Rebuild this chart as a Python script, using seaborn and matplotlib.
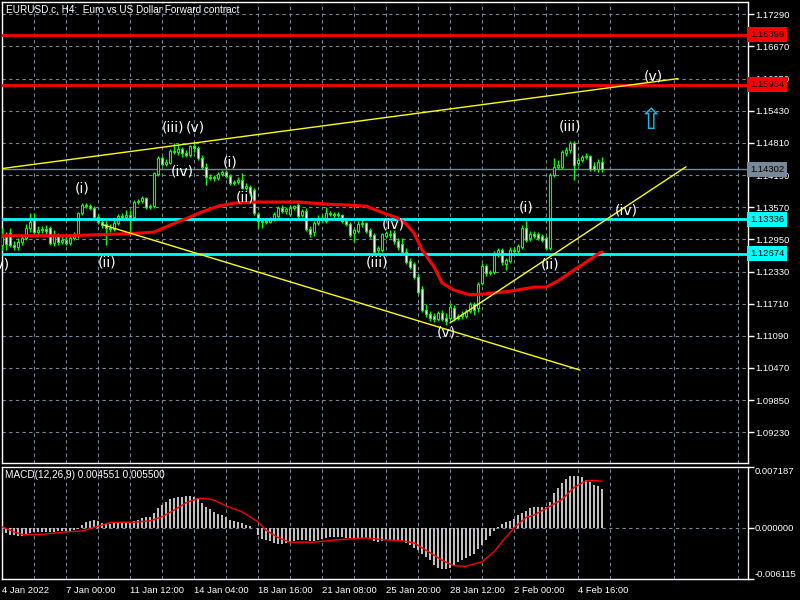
import matplotlib
matplotlib.use("Agg")
import matplotlib.pyplot as plt
import matplotlib.transforms as mtransforms
import numpy as np
import seaborn as sns

TITLE = "EURUSD.c, H4:  Euro vs US Dollar Forward contract"
MACD_TITLE = "MACD(12,26,9) 0.004551 0.005500"

# H4 candles (bar 0 = 4 Jan 2022)
opens = [
    1.1284, 1.1300, 1.1307, 1.1284, 1.1280, 1.1290, 1.1298, 1.1317, 1.1336, 1.1309,
    1.1313, 1.1315, 1.1317, 1.1288, 1.1302, 1.1290, 1.1294, 1.1288, 1.1298, 1.1303,
    1.1346, 1.1361, 1.1359, 1.1356, 1.1338, 1.1329, 1.1325, 1.1317, 1.1315, 1.1327,
    1.1340, 1.1338, 1.1342, 1.1338, 1.1367, 1.1369, 1.1375, 1.1357, 1.1359, 1.1421,
    1.1452, 1.1440, 1.1442, 1.1466, 1.1464, 1.1469, 1.1462, 1.1458, 1.1475, 1.1471,
    1.1452, 1.1435, 1.1415, 1.1415, 1.1413, 1.1421, 1.1425, 1.1417, 1.1404, 1.1406,
    1.1410, 1.1394, 1.1396, 1.1390, 1.1344, 1.1330, 1.1330, 1.1329, 1.1334, 1.1340,
    1.1356, 1.1350, 1.1344, 1.1356, 1.1361, 1.1342, 1.1350, 1.1315, 1.1309, 1.1327,
    1.1334, 1.1330, 1.1346, 1.1344, 1.1342, 1.1342, 1.1330, 1.1325, 1.1307, 1.1311,
    1.1325, 1.1327, 1.1313, 1.1303, 1.1275, 1.1275, 1.1302, 1.1305, 1.1307, 1.1292,
    1.1286, 1.1271, 1.1253, 1.1248, 1.1222, 1.1199, 1.1159, 1.1151, 1.1147, 1.1141,
    1.1153, 1.1143, 1.1143, 1.1162, 1.1143, 1.1147, 1.1147, 1.1157, 1.1170, 1.1162,
    1.1211, 1.1244, 1.1230, 1.1232, 1.1267, 1.1275, 1.1248, 1.1253, 1.1275, 1.1273,
    1.1280, 1.1317, 1.1298, 1.1305, 1.1305, 1.1302, 1.1298, 1.1278, 1.1419, 1.1435,
    1.1435, 1.1462, 1.1467, 1.1481, 1.1442, 1.1448, 1.1454, 1.1456, 1.1437, 1.1431,
    1.1444,
]
highs = [
    1.1317, 1.1309, 1.1317, 1.1292, 1.1298, 1.1303, 1.1325, 1.1346, 1.1346, 1.1321,
    1.1321, 1.1323, 1.1321, 1.1313, 1.1307, 1.1303, 1.1302, 1.1303, 1.1309, 1.1348,
    1.1365, 1.1365, 1.1363, 1.1359, 1.1344, 1.1336, 1.1330, 1.1325, 1.1332, 1.1344,
    1.1346, 1.1352, 1.1352, 1.1371, 1.1373, 1.1379, 1.1377, 1.1363, 1.1425, 1.1456,
    1.1456, 1.1450, 1.1469, 1.1481, 1.1479, 1.1473, 1.1467, 1.1477, 1.1483, 1.1475,
    1.1458, 1.1442, 1.1421, 1.1419, 1.1425, 1.1429, 1.1429, 1.1421, 1.1410, 1.1415,
    1.1423, 1.1404, 1.1400, 1.1394, 1.1348, 1.1336, 1.1334, 1.1338, 1.1348, 1.1359,
    1.1361, 1.1357, 1.1361, 1.1361, 1.1367, 1.1354, 1.1356, 1.1321, 1.1330, 1.1342,
    1.1344, 1.1357, 1.1350, 1.1348, 1.1348, 1.1344, 1.1336, 1.1329, 1.1317, 1.1330,
    1.1332, 1.1329, 1.1317, 1.1307, 1.1282, 1.1307, 1.1311, 1.1313, 1.1313, 1.1298,
    1.1298, 1.1278, 1.1259, 1.1251, 1.1228, 1.1205, 1.1170, 1.1157, 1.1153, 1.1157,
    1.1159, 1.1153, 1.1172, 1.1168, 1.1151, 1.1157, 1.1161, 1.1174, 1.1174, 1.1213,
    1.1249, 1.1248, 1.1236, 1.1273, 1.1278, 1.1278, 1.1259, 1.1280, 1.1280, 1.1286,
    1.1323, 1.1330, 1.1311, 1.1311, 1.1309, 1.1305, 1.1302, 1.1423, 1.1452, 1.1448,
    1.1467, 1.1473, 1.1485, 1.1485, 1.1454, 1.1458, 1.1462, 1.1458, 1.1444, 1.1450,
    1.1454,
]
lows = [
    1.1275, 1.1275, 1.1280, 1.1275, 1.1275, 1.1284, 1.1294, 1.1309, 1.1303, 1.1302,
    1.1307, 1.1305, 1.1284, 1.1282, 1.1284, 1.1286, 1.1284, 1.1284, 1.1294, 1.1298,
    1.1342, 1.1356, 1.1352, 1.1336, 1.1325, 1.1317, 1.1284, 1.1309, 1.1311, 1.1323,
    1.1332, 1.1334, 1.1307, 1.1332, 1.1363, 1.1365, 1.1354, 1.1354, 1.1356, 1.1417,
    1.1437, 1.1437, 1.1440, 1.1460, 1.1458, 1.1454, 1.1454, 1.1454, 1.1464, 1.1448,
    1.1431, 1.1400, 1.1410, 1.1408, 1.1410, 1.1417, 1.1413, 1.1400, 1.1400, 1.1402,
    1.1392, 1.1390, 1.1379, 1.1342, 1.1317, 1.1317, 1.1325, 1.1327, 1.1330, 1.1336,
    1.1346, 1.1344, 1.1340, 1.1352, 1.1336, 1.1338, 1.1311, 1.1300, 1.1302, 1.1323,
    1.1329, 1.1327, 1.1340, 1.1336, 1.1338, 1.1327, 1.1321, 1.1300, 1.1290, 1.1307,
    1.1319, 1.1307, 1.1298, 1.1269, 1.1269, 1.1271, 1.1298, 1.1298, 1.1286, 1.1275,
    1.1267, 1.1248, 1.1238, 1.1219, 1.1190, 1.1155, 1.1145, 1.1137, 1.1135, 1.1137,
    1.1137, 1.1130, 1.1139, 1.1137, 1.1139, 1.1141, 1.1143, 1.1153, 1.1149, 1.1155,
    1.1207, 1.1224, 1.1226, 1.1228, 1.1261, 1.1246, 1.1236, 1.1249, 1.1269, 1.1269,
    1.1276, 1.1290, 1.1292, 1.1298, 1.1294, 1.1290, 1.1275, 1.1275, 1.1415, 1.1431,
    1.1431, 1.1456, 1.1462, 1.1410, 1.1437, 1.1444, 1.1450, 1.1427, 1.1427, 1.1425,
    1.1425,
]
closes = [
    1.1300, 1.1286, 1.1284, 1.1280, 1.1290, 1.1298, 1.1317, 1.1329, 1.1309, 1.1313,
    1.1315, 1.1311, 1.1288, 1.1302, 1.1290, 1.1294, 1.1288, 1.1298, 1.1303, 1.1346,
    1.1361, 1.1359, 1.1356, 1.1338, 1.1329, 1.1323, 1.1317, 1.1315, 1.1327, 1.1340,
    1.1338, 1.1342, 1.1338, 1.1367, 1.1369, 1.1375, 1.1357, 1.1359, 1.1423, 1.1452,
    1.1440, 1.1444, 1.1466, 1.1464, 1.1469, 1.1462, 1.1458, 1.1475, 1.1471, 1.1452,
    1.1435, 1.1415, 1.1413, 1.1413, 1.1421, 1.1425, 1.1417, 1.1404, 1.1406, 1.1410,
    1.1394, 1.1398, 1.1384, 1.1346, 1.1330, 1.1329, 1.1329, 1.1334, 1.1344, 1.1356,
    1.1350, 1.1354, 1.1356, 1.1359, 1.1340, 1.1350, 1.1315, 1.1305, 1.1327, 1.1334,
    1.1336, 1.1346, 1.1344, 1.1342, 1.1344, 1.1330, 1.1325, 1.1303, 1.1313, 1.1325,
    1.1327, 1.1311, 1.1302, 1.1271, 1.1278, 1.1305, 1.1307, 1.1303, 1.1292, 1.1280,
    1.1271, 1.1251, 1.1242, 1.1222, 1.1193, 1.1159, 1.1151, 1.1143, 1.1141, 1.1153,
    1.1141, 1.1137, 1.1164, 1.1143, 1.1147, 1.1151, 1.1157, 1.1170, 1.1159, 1.1209,
    1.1244, 1.1230, 1.1232, 1.1267, 1.1275, 1.1251, 1.1255, 1.1275, 1.1273, 1.1282,
    1.1317, 1.1294, 1.1305, 1.1302, 1.1298, 1.1294, 1.1278, 1.1419, 1.1435, 1.1439,
    1.1464, 1.1467, 1.1481, 1.1439, 1.1448, 1.1454, 1.1456, 1.1431, 1.1431, 1.1444,
    1.14302,
]

# moving average (red line), sampled along the curve
ma_bar = [0, 8, 16, 20, 28, 34, 38, 41, 44, 47, 50, 54, 58, 64, 74, 81, 87, 91,
          94, 96, 99, 101, 103, 105, 108, 110, 113, 117, 121, 127, 133, 136,
          139, 143, 146, 149, 150]
ma_price = [1.1302, 1.1302, 1.1302, 1.1303, 1.1305, 1.1307, 1.1309, 1.1319,
            1.1329, 1.1338, 1.1348, 1.1359, 1.1365, 1.1367, 1.1367, 1.1363,
            1.1361, 1.1359, 1.1350, 1.1344, 1.1336, 1.1325, 1.1307, 1.1275,
            1.1242, 1.1211, 1.1197, 1.1188, 1.1190, 1.1195, 1.1203, 1.1203,
            1.1215, 1.1236, 1.1251, 1.1267, 1.1271]

# MACD histogram, one value per candle
macd_hist = [
    -0.00063, -0.00071, -0.00083, -0.00091, -0.00099, -0.00095, -0.00087, -0.00071, -0.00059, -0.00051,
    -0.00048, -0.00048, -0.00051, -0.00048, -0.00044, -0.00044, -0.00040, -0.00040, -0.00032, -0.00012,
    0.00028, 0.00067, 0.00083, 0.00087, 0.00075, 0.00055, 0.00040, 0.00036, 0.00048, 0.00055,
    0.00063, 0.00063, 0.00063, 0.00075, 0.00095, 0.00115, 0.00119, 0.00123, 0.00174, 0.00226,
    0.00273, 0.00305, 0.00333, 0.00356, 0.00364, 0.00368, 0.00372, 0.00376, 0.00364, 0.00333,
    0.00293, 0.00246, 0.00214, 0.00186, 0.00166, 0.00147, 0.00119, 0.00095, 0.00079, 0.00071,
    0.00048, 0.00028, 0.00016, -0.00008, -0.00091, -0.00131, -0.00150, -0.00166, -0.00182, -0.00194,
    -0.00198, -0.00186, -0.00174, -0.00162, -0.00150, -0.00150, -0.00154, -0.00162, -0.00158, -0.00143,
    -0.00131, -0.00119, -0.00111, -0.00107, -0.00107, -0.00115, -0.00119, -0.00127, -0.00135, -0.00127,
    -0.00119, -0.00123, -0.00135, -0.00158, -0.00174, -0.00162, -0.00150, -0.00150, -0.00150, -0.00158,
    -0.00162, -0.00182, -0.00210, -0.00238, -0.00269, -0.00309, -0.00348, -0.00388, -0.00447, -0.00475,
    -0.00487, -0.00495, -0.00475, -0.00440, -0.00408, -0.00388, -0.00368, -0.00341, -0.00317, -0.00261,
    -0.00210, -0.00150, -0.00103, -0.00040, 0.00004, 0.00040, 0.00067, 0.00079, 0.00107, 0.00147,
    0.00174, 0.00198, 0.00226, 0.00238, 0.00246, 0.00246, 0.00238, 0.00305, 0.00404, 0.00475,
    0.00531, 0.00582, 0.00610, 0.00610, 0.00610, 0.00594, 0.00562, 0.00535, 0.00503, 0.00491,
    0.004551,
]

# MACD signal line (red), sampled
signal_bar = [0, 3, 5, 10, 12, 16, 20, 22, 25, 27, 30, 33, 37, 40, 43, 46, 49,
              51, 53, 56, 60, 64, 66, 69, 72, 78, 83, 88, 91, 95, 100, 103, 106,
              110, 113, 116, 120, 123, 125, 128, 131, 133, 136, 140, 143, 146,
              148, 150]
signal_val = [0.00008, -0.00051, -0.00083, -0.00083, -0.00071, -0.00051,
              -0.00040, -0.00012, 0.00028, 0.00059, 0.00063, 0.00063, 0.00079,
              0.00127, 0.00206, 0.00293, 0.00345, 0.00345, 0.00325, 0.00257,
              0.00186, 0.00067, -0.00032, -0.00119, -0.00174, -0.00174,
              -0.00150, -0.00131, -0.00123, -0.00143, -0.00158, -0.00182,
              -0.00269, -0.00388, -0.00455, -0.00459, -0.00408, -0.00289,
              -0.00170, -0.00004, 0.00119, 0.00147, 0.00226, 0.00333, 0.00475,
              0.00554, 0.00560, 0.00550]

# horizontal levels
red_levels = [1.16899, 1.15934]
cyan_levels = [1.13336, 1.12674]
bid_price = 1.14302

# trend lines: (bar, price) start and end
trend_lines = [
    ((-0.5, 1.1431), (169.0, 1.1605)),
    ((25.25, 1.1323), (144.5, 1.1043)),
    ((112.0, 1.1134), (171.0, 1.1435)),
]

# Elliott wave labels
wave_text = ["(i)", "(ii)", "(iii)", "(v)", "(iv)", "(i)", "(ii)", "(iv)",
             "(iii)", "(v)", "(i)", "(ii)", "(iii)", "(iv)", "(v)", "(v)", "(iv)"]
wave_bar = [20, 26.25, 42.75, 48.25, 45, 57, 60.75, 97.75, 93.75, 111, 131,
            137, 142, 156, 162.75, -0.5, -3]
wave_price = [1.1394, 1.1251, 1.1510, 1.1510, 1.1425, 1.1444, 1.1375, 1.1323,
              1.1251, 1.1116, 1.1357, 1.1247, 1.1512, 1.1350, 1.1610, 1.1246,
              1.1336]

price_ticks = [1.17290, 1.16670, 1.16050, 1.15430, 1.14810, 1.14190, 1.13570,
               1.12950, 1.12330, 1.11710, 1.11090, 1.10470, 1.09850, 1.09230]
macd_ticks = [0.007187, 0.0, -0.006115]
date_ticks = [0, 16, 32, 48, 64, 80, 96, 112, 128, 144]
date_labels = ["4 Jan 2022", "7 Jan 00:00", "11 Jan 12:00", "14 Jan 04:00",
               "18 Jan 16:00", "21 Jan 08:00", "25 Jan 20:00", "28 Jan 12:00",
               "2 Feb 00:00", "4 Feb 16:00"]

LIME = "#00ff00"
GRID = "#778899"


def style_axes(ax):
    ax.set_facecolor("black")
    for sp in ax.spines.values():
        sp.set_color("white")
        sp.set_linewidth(1)
    ax.set_xlim(0, 186.5)
    ax.set_xticks(date_ticks)
    ax.set_xticks(np.arange(8, 187, 16), minor=True)
    ax.grid(False)
    ax.grid(True, which="both", axis="x", color=GRID, linestyle=(0, (3, 3)),
            linewidth=0.8)
    ax.set_axisbelow(True)
    ax.yaxis.tick_right()
    ax.tick_params(axis="y", colors="white", labelcolor="white", length=4,
                   width=1, direction="out", pad=1, labelsize=6.8, left=False)
    ax.tick_params(axis="x", which="minor", length=0)


def main():
    sns.set_theme(style="dark", rc={"figure.facecolor": "black",
                                    "axes.facecolor": "black"})
    plt.rcParams["font.family"] = ["Liberation Sans", "DejaVu Sans"]

    fig = plt.figure(figsize=(8, 6), dpi=100)
    ax = fig.add_axes([0.0025, 0.22833, 0.9325, 0.76833])
    ax2 = fig.add_axes([0.0025, 0.035, 0.9325, 0.18667])

    # ---- price panel ----
    style_axes(ax)
    ax.set_ylim(1.08638, 1.17527)
    ax.set_yticks(price_ticks)
    ax.set_yticklabels([f"{t:.5f}" for t in price_ticks])
    ax.grid(True, axis="y", color=GRID, linestyle=(0, (3, 3)), linewidth=0.8)
    ax.tick_params(axis="x", which="major", length=0, labelbottom=False)

    bars = np.arange(len(closes))
    o = np.array(opens)
    c = np.array(closes)
    ax.vlines(bars, lows, highs, color=LIME, linewidth=1, zorder=3)
    bull = c >= o
    ax.bar(bars[bull], (c - o)[bull], bottom=o[bull], width=0.62,
           color="black", edgecolor=LIME, linewidth=0.8, zorder=4)
    ax.bar(bars[~bull], (o - c)[~bull], bottom=c[~bull], width=0.62,
           color="white", edgecolor=LIME, linewidth=0.8, zorder=4)

    for lv in red_levels:
        ax.axhline(lv, color="red", linewidth=2, zorder=5)
    for lv in cyan_levels:
        ax.axhline(lv, color="#00ffff", linewidth=2, zorder=5)
    ax.axhline(bid_price, color=GRID, linewidth=1, zorder=2)

    sns.lineplot(x=ma_bar, y=ma_price, ax=ax, color="red", linewidth=2.2,
                 legend=False, zorder=6)

    for (x0, y0), (x1, y1) in trend_lines:
        ax.plot([x0, x1], [y0, y1], color="#ffff00", linewidth=1, zorder=6)

    for txt, xb, yp in zip(wave_text, wave_bar, wave_price):
        ax.text(xb, yp, txt, color="white", fontsize=10, ha="center",
                va="center", family=["DejaVu Sans"], zorder=8)

    ax.text(162, 1.1523, "\u21e7", color="#1fb6e8", fontsize=21, ha="center",
            va="center", family=["DejaVu Sans"], zorder=8)

    trans = mtransforms.blended_transform_factory(ax.transAxes, ax.transData)
    level_boxes = [(lv, "red") for lv in red_levels] + \
                  [(lv, "#00ffff") for lv in cyan_levels] + [(bid_price, GRID)]
    for lv, col in level_boxes:
        ax.text(1.003, lv, f"{lv:.5f}", transform=trans, ha="left",
                va="center", fontsize=6.8, color="black", clip_on=False,
                bbox=dict(boxstyle="square,pad=0.3", fc=col, ec="none"),
                zorder=10)

    fig.text(6 / 800, 1 - 9 / 600, TITLE, color="white", fontsize=7.2,
             ha="left", va="center")

    # ---- MACD panel ----
    style_axes(ax2)
    ax2.set_ylim(-0.006115, 0.007187)
    ax2.set_yticks(macd_ticks)
    ax2.set_yticklabels([f"{t:.6f}" for t in macd_ticks])
    labels = ax2.get_yticklabels()
    labels[0].set_va("top")
    labels[2].set_va("bottom")
    ax2.axhline(0, color=GRID, linestyle=(0, (3, 3)), linewidth=0.8, zorder=1)
    ax2.bar(bars, macd_hist, width=0.45, color="#c0c0c0", linewidth=0,
            zorder=3)
    sns.lineplot(x=signal_bar, y=signal_val, ax=ax2, color="red",
                 linewidth=1, legend=False, zorder=4)
    ax2.set_xticklabels(date_labels)
    ax2.tick_params(axis="x", which="major", colors="white",
                    labelcolor="white", length=4, width=1, direction="out",
                    pad=1, labelsize=6.8)
    for lab in ax2.get_xticklabels():
        lab.set_ha("left")
    ax2.set_xlabel("")
    ax2.set_ylabel("")
    ax.set_xlabel("")
    ax.set_ylabel("")

    fig.text(5 / 800, 1 - 475 / 600, MACD_TITLE, color="white", fontsize=7.2,
             ha="left", va="center")

    fig.savefig("out.png", dpi=100, facecolor="black")


if __name__ == '__main__':
    main()
